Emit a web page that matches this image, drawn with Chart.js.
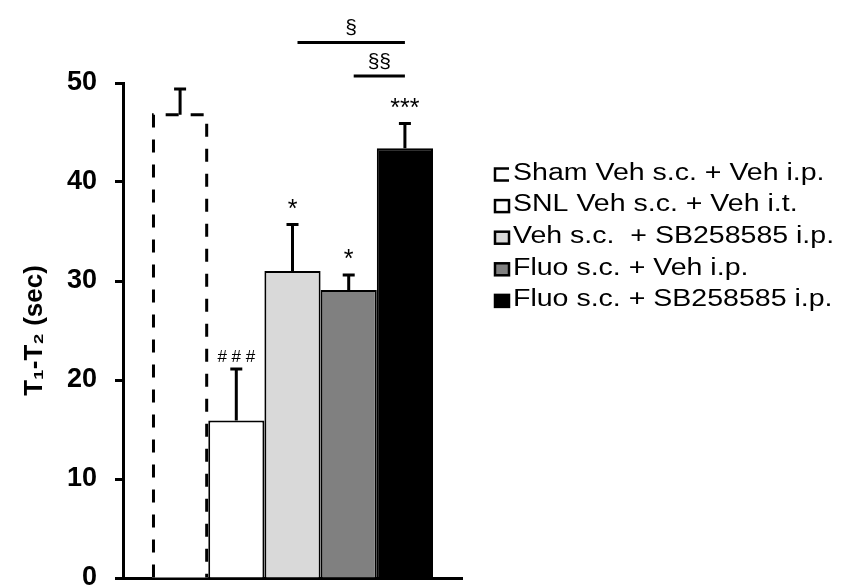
<!DOCTYPE html>
<html>
<head>
<meta charset="utf-8">
<script src="https://cdn.jsdelivr.net/npm/chart.js@4.4.1/dist/chart.umd.min.js"></script>
<style>
html, body { margin:0; padding:0; background:#fff; }
#wrap { width:842px; height:587px; }
</style>
</head>
<body>
<div id="wrap"><canvas id="c"></canvas></div>
<script>
// groups (one bar each)
const groups = ["Sham Veh s.c. + Veh i.p.", "SNL Veh s.c. + Veh i.t.", "Veh s.c.  + SB258585 i.p.", "Fluo s.c. + Veh i.p.", "Fluo s.c. + SB258585 i.p."]
const means = [46.8, 15.9, 31.0, 29.1, 43.4]
const errors = [2.6, 5.2, 4.7, 1.5, 2.5]
const marks = ["", "# # #", "*", "*", "***"]
const fills = ["#ffffff", "#ffffff", "#d9d9d9", "#808080", "#000000"]
// [from group, to group, label, level in sec]
const brackets = [[2, 4, "§", 54.1], [3, 4, "§§", 50.7]]

const FONT = "'Liberation Sans', Arial, sans-serif"

function barAt(chart, i){
    return chart.getDatasetMeta(i).data[0].getProps(['x','y','base','width'], true)
}

const extras = {
    id: 'extras',
    afterDatasetsDraw(chart){
        const ctx = chart.ctx
        const yScale = chart.scales.y
        ctx.save()
        ctx.strokeStyle = '#000'
        ctx.fillStyle = '#000'

        //dashed sham bar
        var b = barAt(chart, 0)
        var l = b.x - b.width/2 + 1.5, r = b.x + b.width/2 - 1.5
        ctx.lineWidth = 3
        ctx.setLineDash([13, 12])
        ctx.beginPath()
        ctx.moveTo(l, b.base)
        ctx.lineTo(l, b.y)
        ctx.lineTo(r, b.y)
        ctx.lineTo(r, b.base)
        ctx.stroke()
        ctx.setLineDash([])

        //error bars (upper only) + marks
        for (var i = 0; i < means.length; i++){
            var bar = barAt(chart, i)
            var top = yScale.getPixelForValue(means[i] + errors[i])
            ctx.lineWidth = 3
            ctx.beginPath()
            ctx.moveTo(bar.x, bar.y)
            ctx.lineTo(bar.x, top)
            ctx.moveTo(bar.x - 6, top)
            ctx.lineTo(bar.x + 6, top)
            ctx.stroke()
            if (marks[i]){
                var hash = marks[i].indexOf('#') >= 0
                ctx.font = (hash ? '17px ' : '25px ') + FONT
                ctx.textAlign = 'center'
                ctx.textBaseline = 'alphabetic'
                ctx.fillText(marks[i], bar.x, top - (hash ? 7 : 8))
            }
        }

        //significance lines
        brackets.forEach(function(br){
            var a = barAt(chart, br[0]), c = barAt(chart, br[1])
            var yy = yScale.getPixelForValue(br[3])
            ctx.lineWidth = 3
            ctx.beginPath()
            ctx.moveTo(a.x + 5, yy)
            ctx.lineTo(c.x, yy)
            ctx.stroke()
            ctx.font = '21px ' + FONT
            ctx.textAlign = 'center'
            ctx.textBaseline = 'alphabetic'
            ctx.fillText(br[2], (a.x + 5 + c.x)/2, yy - 8)
        })

        //legend
        var sets = chart.data.datasets
        for (var k = 0; k < sets.length; k++){
            var cy = 173.5 + k*31.6
            var bx = 495, bw = 14, bh = 12, by = cy - bh/2 + 1
            ctx.lineWidth = 2.5
            if (k == 0){
                ctx.beginPath()
                ctx.moveTo(bx + bw, by)
                ctx.lineTo(bx, by)
                ctx.lineTo(bx, by + bh)
                ctx.lineTo(bx + bw, by + bh)
                ctx.stroke()
            } else {
                ctx.fillStyle = sets[k].backgroundColor
                ctx.fillRect(bx, by, bw, bh)
                ctx.strokeRect(bx, by, bw, bh)
            }
            ctx.fillStyle = '#000'
            ctx.font = '23px ' + FONT
            ctx.textAlign = 'left'
            ctx.textBaseline = 'middle'
            ctx.save()
            ctx.translate(513, cy)
            ctx.scale(1.24, 1)
            ctx.fillText(sets[k].label, 0, 0)
            ctx.restore()
        }
        ctx.restore()
    }
}

new Chart(document.getElementById('c'), {
    type: 'bar',
    data: {
        labels: [''],
        datasets: groups.map(function(g, i){
            return {
                label: g,
                data: [means[i]],
                backgroundColor: fills[i],
                borderColor: '#000',
                borderWidth: i == 0 ? 0 : 2,
                categoryPercentage: 0.829,
                barPercentage: 1.0
            }
        })
    },
    options: {
        responsive: true,
        maintainAspectRatio: false,
        animation: false,
        layout: { padding: { left: 12, right: 380, top: 83, bottom: 9 } },
        plugins: { legend: { display: false }, tooltip: { enabled: false } },
        scales: {
            x: {
                grid: { display: false },
                ticks: { display: false },
                border: { color: '#000', width: 3 },
                afterFit: function(s){ s.height = 0 }
            },
            y: {
                min: 0,
                max: 50,
                ticks: {
                    stepSize: 10,
                    color: '#000',
                    padding: 18,
                    font: { family: FONT, size: 27, weight: 'bold' }
                },
                grid: { drawOnChartArea: false, tickLength: 8, tickWidth: 3, tickColor: '#000' },
                border: { color: '#000', width: 3 },
                title: {
                    display: true,
                    text: 'T₁-T₂ (sec)',
                    color: '#000',
                    padding: { top: 7, bottom: 0 },
                    font: { family: FONT, size: 26, weight: 'bold' }
                },
                afterFit: function(s){
                    s.width = 111
                    s.paddingTop = 0
                    s.paddingBottom = 0
                }
            }
        }
    },
    plugins: [extras]
})
</script>
</body>
</html>
